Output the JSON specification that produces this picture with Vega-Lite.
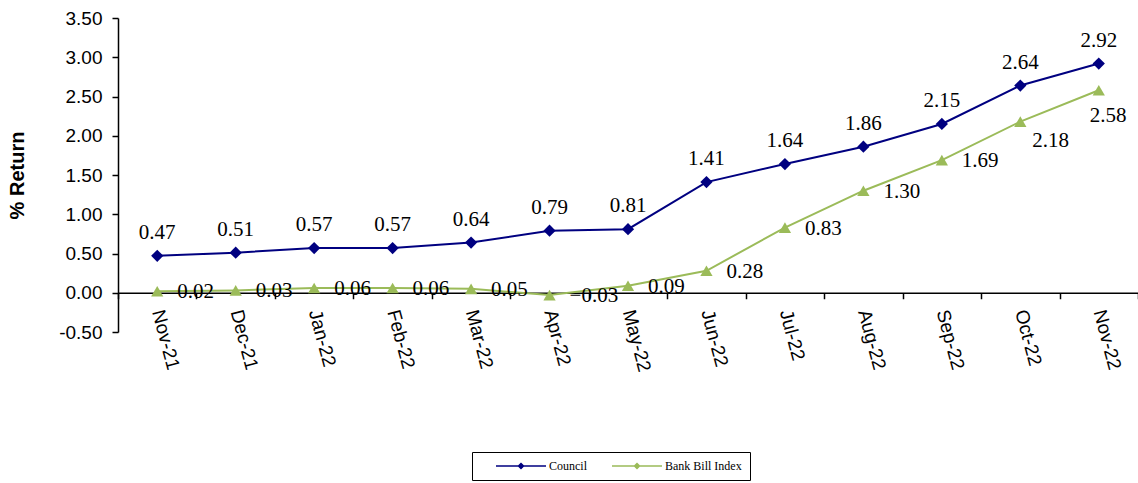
{
  "$schema": "https://vega.github.io/schema/vega-lite/v6.json",
  "width": 1020,
  "height": 314,
  "autosize": {"type": "none"},
  "padding": {"left": 118, "top": 18, "right": 0, "bottom": 151},
  "background": "white",
  "config": {"view": {"stroke": null}, "font": "Liberation Sans"},
  "data": {
    "values": [
      {"month": "Nov-21", "series": "Council", "value": 0.47},
      {"month": "Dec-21", "series": "Council", "value": 0.51},
      {"month": "Jan-22", "series": "Council", "value": 0.57},
      {"month": "Feb-22", "series": "Council", "value": 0.57},
      {"month": "Mar-22", "series": "Council", "value": 0.64},
      {"month": "Apr-22", "series": "Council", "value": 0.79},
      {"month": "May-22", "series": "Council", "value": 0.81},
      {"month": "Jun-22", "series": "Council", "value": 1.41},
      {"month": "Jul-22", "series": "Council", "value": 1.64},
      {"month": "Aug-22", "series": "Council", "value": 1.86},
      {"month": "Sep-22", "series": "Council", "value": 2.15},
      {"month": "Oct-22", "series": "Council", "value": 2.64},
      {"month": "Nov-22", "series": "Council", "value": 2.92},
      {"month": "Nov-21", "series": "Bank Bill Index", "value": 0.02},
      {"month": "Dec-21", "series": "Bank Bill Index", "value": 0.03},
      {"month": "Jan-22", "series": "Bank Bill Index", "value": 0.06},
      {"month": "Feb-22", "series": "Bank Bill Index", "value": 0.06},
      {"month": "Mar-22", "series": "Bank Bill Index", "value": 0.05},
      {"month": "Apr-22", "series": "Bank Bill Index", "value": -0.03},
      {"month": "May-22", "series": "Bank Bill Index", "value": 0.09},
      {"month": "Jun-22", "series": "Bank Bill Index", "value": 0.28},
      {"month": "Jul-22", "series": "Bank Bill Index", "value": 0.83},
      {"month": "Aug-22", "series": "Bank Bill Index", "value": 1.30},
      {"month": "Sep-22", "series": "Bank Bill Index", "value": 1.69},
      {"month": "Oct-22", "series": "Bank Bill Index", "value": 2.18},
      {"month": "Nov-22", "series": "Bank Bill Index", "value": 2.58}
    ]
  },
  "encoding": {
    "x": {
      "field": "month", "type": "ordinal", "sort": null,
      "scale": {"type": "band", "paddingInner": 0, "paddingOuter": 0},
      "axis": {
        "title": null, "offset": -39.25, "tickBand": "extent", "grid": false,
        "domainColor": "black", "domainWidth": 1.5, "tickColor": "black", "tickWidth": 1.5, "tickSize": 6,
        "labelAngle": 75, "labelAlign": "left", "labelBaseline": "middle",
        "labelFont": "Liberation Sans", "labelFontSize": 19, "labelColor": "black", "labelPadding": 11
      }
    },
    "y": {
      "field": "value", "type": "quantitative",
      "scale": {"domain": [-0.5, 3.5], "nice": false, "zero": false},
      "axis": {
        "title": "% Return", "values": [-0.5, 0, 0.5, 1, 1.5, 2, 2.5, 3, 3.5], "format": ".2f",
        "labelExpr": "replace(datum.label, '\u2212', '-')",
        "grid": false, "domainColor": "black", "domainWidth": 1.5, "tickColor": "black", "tickWidth": 1.5, "tickSize": 6,
        "labelFont": "Liberation Sans", "labelFontSize": 19, "labelColor": "black", "labelPadding": 10,
        "titleFont": "Liberation Sans", "titleFontSize": 20, "titleFontWeight": "bold", "titleColor": "black", "titlePadding": 31
      }
    }
  },
  "layer": [
    {
      "mark": {"type": "line", "strokeWidth": 2},
      "encoding": {
        "color": {
          "field": "series", "type": "nominal",
          "scale": {"domain": ["Council", "Bank Bill Index"], "range": ["#000080", "#9BBB59"]},
          "legend": {
            "title": null, "orient": "none", "legendX": 354, "legendY": 434, "direction": "horizontal",
            "strokeColor": "black", "fillColor": "white", "padding": 8,
            "labelFont": "Liberation Serif", "labelFontSize": 12, "labelColor": "black",
            "labelOffset": 57, "columnPadding": 9, "symbolSize": 100, "symbolStrokeWidth": 1.5,
            "symbolType": "M2,0H12M7,-0.5L7.5,0L7,0.5L6.5,0Z",
            "labelExpr": "datum.label === 'Bank Bill Index' ? datum.label + '\u00a0\u00a0\u00a0\u00a0\u00a0\u00a0\u00a0\u00a0\u00a0' : datum.label"
          }
        }
      }
    },
    {
      "transform": [{"filter": "datum.series === 'Council'"}],
      "mark": {"type": "point", "shape": "diamond", "filled": true, "size": 150, "opacity": 1},
      "encoding": {"color": {"field": "series", "type": "nominal", "legend": null}}
    },
    {
      "transform": [{"filter": "datum.series === 'Bank Bill Index'"}],
      "mark": {"type": "point", "shape": "triangle-up", "filled": true, "size": 150, "opacity": 1},
      "encoding": {"color": {"field": "series", "type": "nominal", "legend": null}}
    },
    {
      "transform": [{"filter": "datum.series === 'Council'"}],
      "mark": {"type": "text", "font": "Liberation Serif", "fontSize": 21, "baseline": "alphabetic", "align": "center", "dy": -17, "color": "black"},
      "encoding": {"text": {"field": "value", "type": "quantitative", "format": ".2f"}}
    },
    {
      "transform": [{"filter": "datum.series === 'Bank Bill Index' && datum.month !== 'Oct-22' && datum.month !== 'Nov-22'"}],
      "mark": {"type": "text", "font": "Liberation Serif", "fontSize": 21, "baseline": "alphabetic", "align": "left", "dx": 20, "dy": 7, "color": "black"},
      "encoding": {"text": {"field": "value", "type": "quantitative", "format": ".2f"}}
    },
    {
      "transform": [{"filter": "datum.series === 'Bank Bill Index' && datum.month === 'Oct-22'"}],
      "mark": {"type": "text", "font": "Liberation Serif", "fontSize": 21, "baseline": "alphabetic", "align": "left", "dx": 12, "dy": 25, "color": "black"},
      "encoding": {"text": {"field": "value", "type": "quantitative", "format": ".2f"}}
    },
    {
      "transform": [{"filter": "datum.series === 'Bank Bill Index' && datum.month === 'Nov-22'"}],
      "mark": {"type": "text", "font": "Liberation Serif", "fontSize": 21, "baseline": "alphabetic", "align": "left", "dx": -9, "dy": 32, "color": "black"},
      "encoding": {"text": {"field": "value", "type": "quantitative", "format": ".2f"}}
    }
  ]
}
